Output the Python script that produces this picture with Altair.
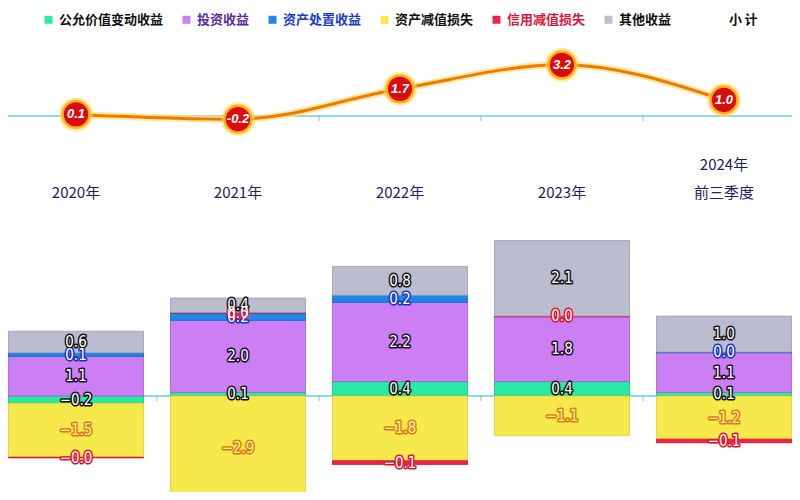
import altair as alt
import pandas as pd

# ---------------- data ----------------
years = ["2020年", "2021年", "2022年", "2023年", "2024年前三季度"]
categories = ["公允价值变动收益", "投资收益", "资产处置收益", "资产减值损失", "信用减值损失", "其他收益"]
fair_value = [-0.2, 0.1, 0.4, 0.4, 0.1]
investment = [1.1, 2.0, 2.2, 1.8, 1.1]
disposal = [0.1, 0.2, 0.2, None, 0.02]
asset_impair = [-1.5, -2.9, -1.8, -1.1, -1.2]
credit_impair = [-0.02, 0.02, -0.1, 0.02, -0.1]
other_income = [0.6, 0.4, 0.8, 2.1, 1.0]
subtotal = [0.1, -0.2, 1.7, 3.2, 1.0]
subtotal_name = "小计"

# ---------------- styles ----------------
fill_colors = ["#27eaa4", "#cc7ef3", "#1f86ea", "#f7e94c", "#ec2447", "#bcbccf"]
edge_colors = ["#16c287", "#a55bd3", "#1466c8", "#e2cf2a", "#cf0f2e", "#9a9ab0"]
label_outline = ["#111111", "#1c0a30", "#1530c8", "#e07a10", "#e0102a", "#111111"]
label_inner = ["#ffffff", "#ffffff", "#ffffff", "#fff3a0", "#ffffff", "#ffffff"]
legend_text = {"投资收益": "#5a2aa0", "资产处置收益": "#1a3ad0", "信用减值损失": "#d8183c"}

series = [fair_value, investment, disposal, asset_impair, credit_impair, other_income]
rows = []
for ci, (cat, vals) in enumerate(zip(categories, series)):
    for yi, v in enumerate(vals):
        if v is None:
            continue
        rows.append({
            "year": years[yi], "cat": cat, "order": ci, "value": v,
            "label": f"{v:.1f}".replace("-", "−"),
            "edge": edge_colors[ci], "outline": label_outline[ci], "inner": label_inner[ci],
        })
bars_df = pd.DataFrame(rows)
line_df = pd.DataFrame({"year": years, "total": subtotal, "series": subtotal_name,
                        "label": [f"{v:.1f}" for v in subtotal]})
ticks_df = pd.DataFrame({"year": years[1:]})

W, H = 784, 484
bot_scale = alt.Scale(domain=[-2.667, 10.778], range=[H, 0], nice=False, zero=False)
top_scale = alt.Scale(domain=[-23.5, 6.75], range=[H, 0], nice=False, zero=False)

x_axis = alt.Axis(orient="top", offset=-164, domain=False, ticks=False, tickSize=0,
                  labelPadding=0, labelAngle=0, labelFontSize=15, labelColor="#1c2160",
                  labelFont="Noto Sans CJK SC", labelLineHeight=28, title=None,
                  labelExpr="datum.label == '2024年前三季度' ? ['2024年', '前三季度'] : ['', datum.label]")


def xenc(**kw):
    return alt.X("year:N", scale=alt.Scale(domain=years, range=[-13, 797],
                                           paddingInner=0, paddingOuter=0),
                 axis=x_axis, **kw)


legend_color_expr = ("datum.label == '投资收益' ? '%s' : datum.label == '资产处置收益' ? '%s' : "
                     "datum.label == '信用减值损失' ? '%s' : '#111111'") % (
    legend_text["投资收益"], legend_text["资产处置收益"], legend_text["信用减值损失"])

common_legend = dict(title=None, orient="none", direction="horizontal",
                     symbolSize=64, symbolStrokeWidth=0, labelFontSize=13,
                     labelFont="Noto Sans CJK SC", labelFontWeight="bold",
                     labelOffset=4, padding=0, labelLimit=300)

stacked = alt.Chart(bars_df).transform_stack(
    stack="value", groupby=["year"], as_=["v0", "v1"],
    sort=[alt.SortField("order", order="ascending")]
).transform_calculate(mid="(datum.v0 + datum.v1) / 2")

bars = stacked.mark_bar(width=135, strokeWidth=0.8).encode(
    x=xenc(),
    y=alt.Y("v0:Q", scale=bot_scale, axis=None),
    y2="v1:Q",
    color=alt.Color("cat:N",
                    scale=alt.Scale(domain=categories, range=fill_colors),
                    legend=alt.Legend(legendX=34, legendY=5, columns=6, columnPadding=16,
                                      symbolType="square",
                                      labelColor=alt.ExprRef(expr=legend_color_expr),
                                      **common_legend)),
    stroke=alt.Stroke("edge:N", scale=None),
)

label_font = "Liberation Sans Narrow, DejaVu Sans Condensed, sans-serif"
lab_out = stacked.mark_text(fontSize=15, font=label_font, strokeWidth=3, strokeJoin="round").encode(
    x=xenc(),
    y=alt.Y("mid:Q", scale=bot_scale, axis=None),
    text="label:N",
    fill=alt.Fill("outline:N", scale=None),
    stroke=alt.Stroke("outline:N", scale=None),
)
lab_in = stacked.mark_text(fontSize=15, font=label_font).encode(
    x=xenc(),
    y=alt.Y("mid:Q", scale=bot_scale, axis=None),
    text="label:N",
    fill=alt.Fill("inner:N", scale=None),
)

zero_bot = alt.Chart(line_df).mark_rule(color="#8fdbe8", strokeWidth=1.5).encode(
    y=alt.Y(datum=0, scale=bot_scale, axis=None))
zero_top = alt.Chart(line_df).mark_rule(color="#8fdbe8", strokeWidth=1.5).encode(
    y=alt.Y(datum=0, scale=top_scale, axis=None))
ticks_bot = alt.Chart(ticks_df).mark_tick(orient="vertical", size=5, thickness=1, yOffset=2.5,
                                          color="#6aa8b8").encode(
    x=xenc(bandPosition=0), y=alt.Y(datum=0, scale=bot_scale, axis=None))
ticks_top = alt.Chart(ticks_df).mark_tick(orient="vertical", size=5, thickness=1, yOffset=2.5,
                                          color="#6aa8b8").encode(
    x=xenc(bandPosition=0), y=alt.Y(datum=0, scale=top_scale, axis=None))

line_glow = alt.Chart(line_df).mark_line(interpolate="monotone", color="#ffe07a",
                                         strokeWidth=7, opacity=0.7).encode(
    x=xenc(), y=alt.Y("total:Q", scale=top_scale, axis=None))
line = alt.Chart(line_df).mark_line(interpolate="monotone", color="#f07a00",
                                    strokeWidth=3).encode(
    x=xenc(), y=alt.Y("total:Q", scale=top_scale, axis=None))
dot_glow = alt.Chart(line_df).mark_circle(size=1150, color="#ffd84a", opacity=0.55).encode(
    x=xenc(), y=alt.Y("total:Q", scale=top_scale, axis=None))
dots = alt.Chart(line_df).mark_point(filled=True, size=720, fill="#d90d0d", stroke="#ffb020",
                                     strokeWidth=2.5, opacity=1).encode(
    x=xenc(), y=alt.Y("total:Q", scale=top_scale, axis=None),
    shape=alt.Shape("series:N", scale=alt.Scale(domain=[subtotal_name], range=["circle"]),
                    legend=alt.Legend(legendX=704, legendY=5, symbolOpacity=0,
                                      labelColor="#111111",
                                      labelExpr="datum.label == '小计' ? '小\u2009计' : datum.label",
                                      **common_legend)),
)
dot_labels = alt.Chart(line_df).mark_text(color="white", fontSize=13, fontWeight="bold",
                                          fontStyle="italic", font="Liberation Sans").encode(
    x=xenc(), y=alt.Y("total:Q", scale=top_scale, axis=None), text="label:N")

chart = alt.layer(
    zero_bot, ticks_bot, bars, lab_out, lab_in,
    zero_top, ticks_top, line_glow, line, dot_glow, dots, dot_labels
).resolve_scale(y="independent").properties(
    width=W, height=H,
    autosize=alt.AutoSizeParams(type="none"),
    padding={"left": 0, "top": 0, "right": 0, "bottom": 0},
    background="white",
).configure_view(stroke=None)

chart.save("out.html", embed_options={"renderer": "svg", "actions": False})
